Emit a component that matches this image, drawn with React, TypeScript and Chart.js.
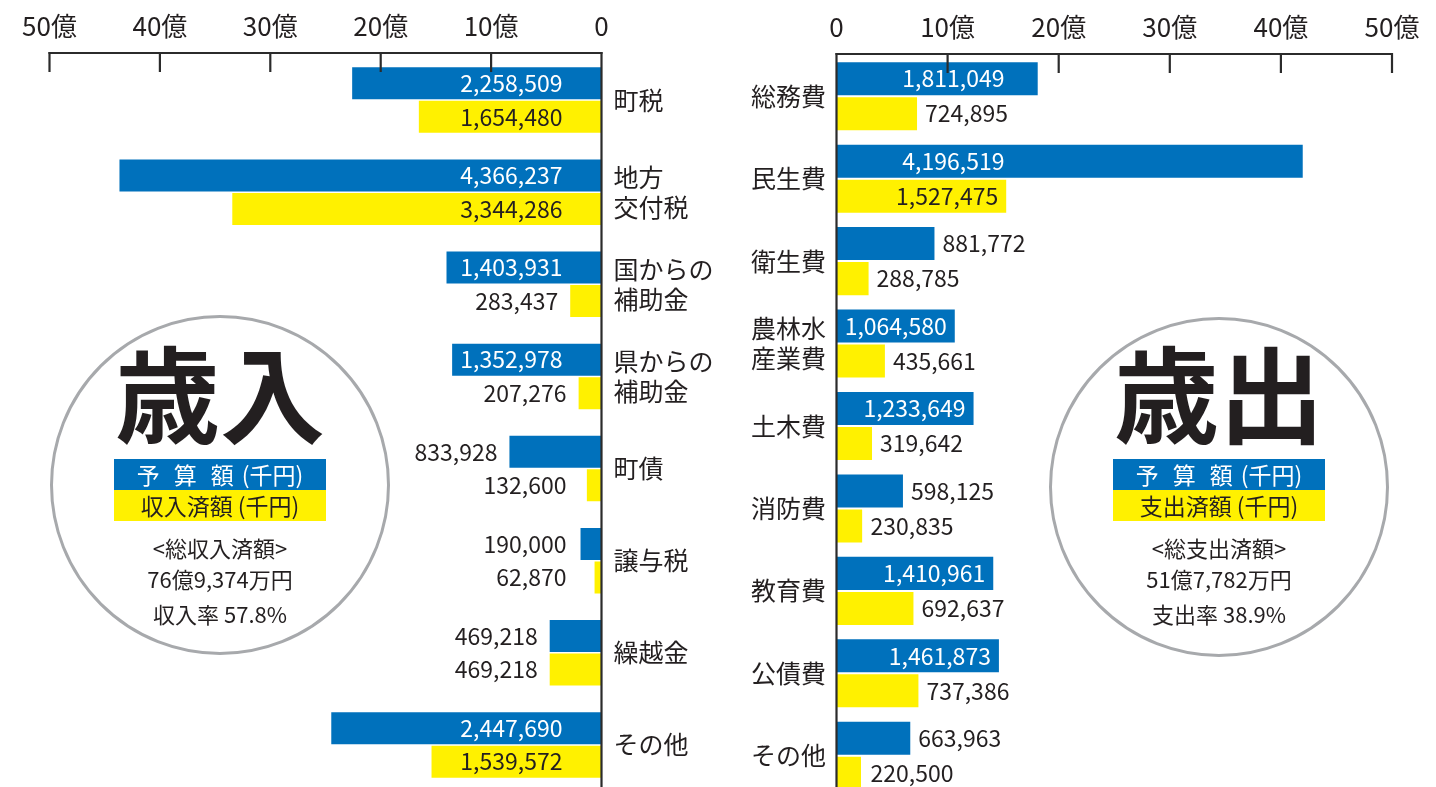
import React, { useEffect, useRef } from 'react';
import { Chart, registerables } from 'chart.js';

Chart.register(...registerables);

const FONT = "'Noto Sans CJK JP', 'Noto Sans', sans-serif";
const DARK = '#231f20';
const BLUE = '#0071bc';
const YELLOW = '#fff100';

// ---- data (千円) ----
const revenueCategories = [['町税'], ['地方', '交付税'], ['国からの', '補助金'], ['県からの', '補助金'], ['町債'], ['譲与税'], ['繰越金'], ['その他']];
const revenueBudget = [2258509, 4366237, 1403931, 1352978, 833928, 190000, 469218, 2447690];
const revenueActual = [1654480, 3344286, 283437, 207276, 132600, 62870, 469218, 1539572];

const expenseCategories = [['総務費'], ['民生費'], ['衛生費'], ['農林水', '産業費'], ['土木費'], ['消防費'], ['教育費'], ['公債費'], ['その他']];
const expenseBudget = [1811049, 4196519, 881772, 1064580, 1233649, 598125, 1410961, 1461873, 663963];
const expenseActual = [724895, 1527475, 288785, 435661, 319642, 230835, 692637, 737386, 220500];

const axisTicks = [0, 1000000, 2000000, 3000000, 4000000, 5000000];
const axisTickLabels = ['0', '10億', '20億', '30億', '40億', '50億'];

const fmt = (v: number) => String(v).replace(/\B(?=(\d{3})+(?!\d))/g, ',');

const axisDecoPlugin = {
  id: 'axisDeco',
  afterDatasetsDraw(chart: any) {
    const o = chart.options.plugins.axisDeco;
    const ctx = chart.ctx;
    const xs = chart.scales.x;
    const ly = o.lineY;
    ctx.save();
    ctx.strokeStyle = '#2b2b2b';
    ctx.lineWidth = 2.2;
    ctx.lineCap = 'butt';
    const xA = xs.getPixelForValue(axisTicks[0]);
    const xB = xs.getPixelForValue(axisTicks[axisTicks.length - 1]);
    ctx.beginPath();
    ctx.moveTo(Math.min(xA, xB) - 1, ly);
    ctx.lineTo(Math.max(xA, xB) + 1, ly);
    ctx.stroke();
    axisTicks.forEach((v) => {
      const px = xs.getPixelForValue(v);
      ctx.beginPath();
      if (v === 0) {
        ctx.moveTo(px, ly - 1);
        ctx.lineTo(px, chart.height);
      } else {
        ctx.moveTo(px, ly - 1);
        ctx.lineTo(px, ly + 19);
      }
      ctx.stroke();
    });
    ctx.restore();
  },
};

const valueLabelPlugin = {
  id: 'valueLabels',
  afterDatasetsDraw(chart: any) {
    const o = chart.options.plugins.valueLabels;
    const ctx = chart.ctx;
    const xs = chart.scales.x;
    const x0 = xs.getPixelForValue(0);
    ctx.save();
    ctx.font = `23px ${FONT}`;
    ctx.textBaseline = 'middle';
    chart.data.datasets.forEach((ds: any, di: number) => {
      const meta = chart.getDatasetMeta(di);
      meta.data.forEach((bar: any, i: number) => {
        const v = ds.data[i];
        const text = fmt(v);
        const inside = v >= 1000000;
        const y = bar.y;
        if (o.side === 'left') {
          ctx.textAlign = 'right';
          if (inside) {
            ctx.fillStyle = di === 0 ? '#ffffff' : DARK;
            ctx.fillText(text, x0 - 39, y);
          } else {
            ctx.fillStyle = DARK;
            ctx.fillText(text, Math.min(bar.x - 12, x0 - 35), y);
          }
        } else {
          if (inside) {
            ctx.textAlign = 'right';
            ctx.fillStyle = di === 0 ? '#ffffff' : DARK;
            ctx.fillText(text, Math.min(bar.x - 8, x0 + 168), y);
          } else {
            ctx.textAlign = 'left';
            ctx.fillStyle = DARK;
            ctx.fillText(text, Math.max(bar.x + 8, x0 + 34), y);
          }
        }
      });
    });
    ctx.restore();
  },
};

function makeConfig(side: 'left' | 'right'): any {
  const isLeft = side === 'left';
  return {
    type: 'bar',
    data: {
      labels: isLeft ? revenueCategories : expenseCategories,
      datasets: [
        {
          label: '予算額',
          data: isLeft ? revenueBudget : expenseBudget,
          backgroundColor: BLUE,
          borderWidth: 0,
          categoryPercentage: isLeft ? 0.728 : 0.85,
          barPercentage: isLeft ? 0.955 : 0.943,
        },
        {
          label: isLeft ? '収入済額' : '支出済額',
          data: isLeft ? revenueActual : expenseActual,
          backgroundColor: YELLOW,
          borderWidth: 0,
          categoryPercentage: isLeft ? 0.728 : 0.85,
          barPercentage: isLeft ? 0.955 : 0.943,
        },
      ],
    },
    options: {
      indexAxis: 'y',
      responsive: false,
      maintainAspectRatio: false,
      animation: false,
      devicePixelRatio: 1,
      layout: {
        padding: isLeft
          ? { left: 49.5, right: 0, top: 0, bottom: 9 }
          : { left: 0, right: 44, top: 0, bottom: 3 },
      },
      scales: {
        x: {
          type: 'linear',
          position: 'top',
          reverse: isLeft,
          min: 0,
          max: 5000000,
          grid: { display: false, drawTicks: false },
          border: { display: false },
          afterBuildTicks: (s: any) => {
            s.ticks = axisTicks.map((v) => ({ value: v }));
          },
          ticks: {
            font: { family: FONT, size: 26 },
            color: DARK,
            padding: 12,
            maxRotation: 0,
            autoSkip: false,
            callback: (v: number) => axisTickLabels[axisTicks.indexOf(v)],
          },
          afterFit: (s: any) => {
            s.height = isLeft ? 54 : 55;
            s.paddingLeft = 0;
            s.paddingRight = 0;
          },
        },
        y: {
          type: 'category',
          position: isLeft ? 'right' : 'left',
          grid: { display: false, drawTicks: false },
          border: { display: false },
          ticks: {
            font: { family: FONT, size: 25, lineHeight: 1.2 },
            color: DARK,
            padding: isLeft ? 12 : 10.5,
          },
          afterFit: (s: any) => {
            s.width = isLeft ? 118.5 : 116.5;
            s.paddingTop = 0;
            s.paddingBottom = 0;
          },
        },
      },
      plugins: {
        legend: { display: false },
        tooltip: { enabled: false },
        axisDeco: { lineY: isLeft ? 53 : 54 },
        valueLabels: { side },
      },
    },
    plugins: [axisDecoPlugin, valueLabelPlugin],
  };
}

function BarChart({ side, left, width }: { side: 'left' | 'right'; left: number; width: number }) {
  const ref = useRef<HTMLCanvasElement | null>(null);
  useEffect(() => {
    if (!ref.current) return;
    const chart = new Chart(ref.current, makeConfig(side));
    return () => chart.destroy();
  }, [side]);
  return (
    <canvas
      ref={ref}
      width={width}
      height={800}
      style={{ position: 'absolute', left, top: 0, width, height: 800 }}
    />
  );
}

function Badge({ cx, cy, r, title, legend2, lines }: { cx: number; cy: number; r: number; title: string; legend2: string; lines: string[] }) {
  const boxW = 212;
  const text = (content: string, top: number, extra: any = {}) => (
    <div
      style={{
        position: 'absolute',
        left: cx - 150,
        width: 300,
        top,
        textAlign: 'center',
        fontFamily: FONT,
        color: DARK,
        whiteSpace: 'nowrap',
        ...extra,
      }}
    >
      {content}
    </div>
  );
  const boxStyle: any = {
    position: 'absolute',
    left: cx - boxW / 2,
    width: boxW,
    height: 31,
    fontFamily: FONT,
    fontSize: 23,
    lineHeight: '31px',
    textAlign: 'center',
    whiteSpace: 'nowrap',
  };
  return (
    <>
      <div
        style={{
          position: 'absolute',
          left: cx - r,
          top: cy - r,
          width: 2 * r,
          height: 2 * r,
          borderRadius: '50%',
          border: '3px solid #a7a9ac',
          boxSizing: 'border-box',
          background: '#ffffff',
        }}
      />
      {text(title, 337, { fontSize: 105, fontWeight: 700, lineHeight: '105px' })}
      <div style={{ ...boxStyle, top: 459, background: BLUE, color: '#ffffff' }}>
        <span style={{ marginRight: 14 }}>予</span>
        <span style={{ marginRight: 14 }}>算</span>
        <span style={{ marginRight: 8 }}>額</span>
        <span>(千円)</span>
      </div>
      <div style={{ ...boxStyle, top: 490, background: YELLOW, color: DARK }}>{legend2}</div>
      {text(lines[0], 534, { fontSize: 22, lineHeight: '26px' })}
      {text(lines[1], 565, { fontSize: 22, lineHeight: '26px' })}
      {text(lines[2], 600, { fontSize: 22, lineHeight: '26px' })}
    </>
  );
}

export default function App() {
  return (
    <div
      style={{
        position: 'fixed',
        left: 0,
        top: 0,
        width: 1436,
        height: 787,
        overflow: 'hidden',
        background: '#ffffff',
      }}
    >
      <BarChart side="left" left={0} width={720} />
      <BarChart side="right" left={720} width={716} />
      <Badge
        cx={220}
        cy={485}
        r={170}
        title="歳入"
        legend2="収入済額 (千円)"
        lines={['<総収入済額>', '76億9,374万円', '収入率 57.8%']}
      />
      <Badge
        cx={1219}
        cy={487}
        r={170}
        title="歳出"
        legend2="支出済額 (千円)"
        lines={['<総支出済額>', '51億7,782万円', '支出率 38.9%']}
      />
    </div>
  );
}
